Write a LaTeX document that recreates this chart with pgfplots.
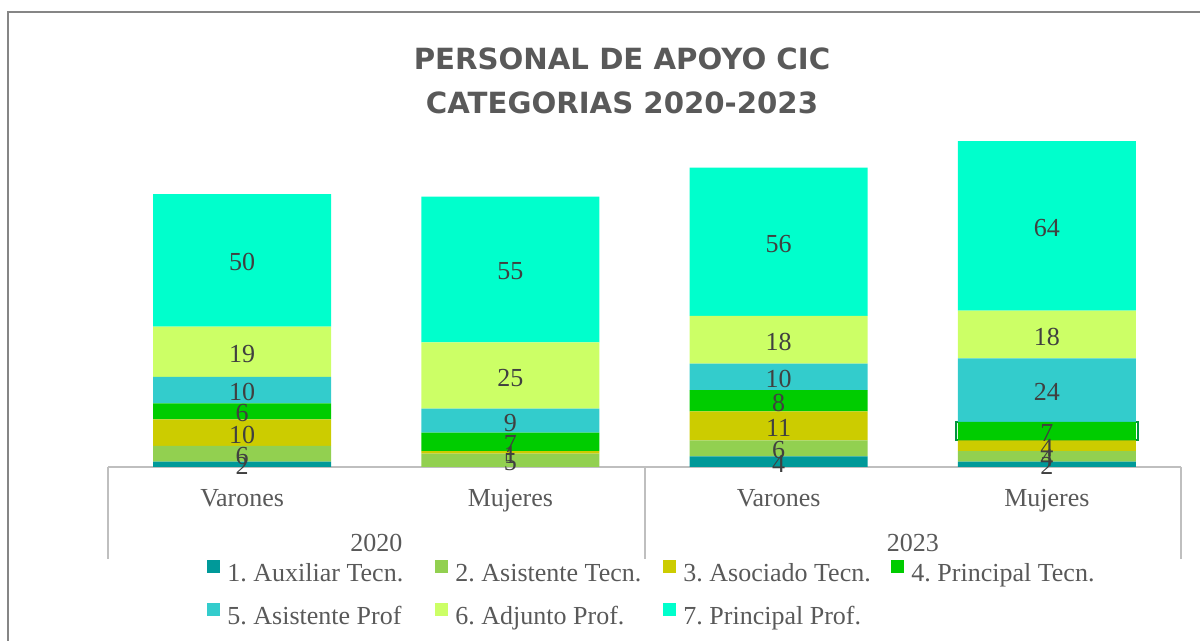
\documentclass[border=0pt]{standalone}
\usepackage{fontspec}
\setmainfont{Liberation Serif}
\newfontfamily\titlefont{DejaVu Sans}
\usepackage{pgfplots}
\pgfplotsset{compat=1.18}
\definecolor{cA}{RGB}{0,153,153}
\definecolor{cB}{RGB}{146,208,80}
\definecolor{cC}{RGB}{204,204,0}
\definecolor{cD}{RGB}{0,204,0}
\definecolor{cE}{RGB}{51,204,204}
\definecolor{cF}{RGB}{204,255,102}
\definecolor{cG}{RGB}{0,255,204}
\definecolor{txt}{RGB}{64,64,64}
\definecolor{lab}{RGB}{89,89,89}
\definecolor{gridc}{RGB}{191,191,191}
\definecolor{framec}{RGB}{134,134,134}
\definecolor{selc}{RGB}{0,150,60}
\begin{document}
\frenchspacing
\begin{tikzpicture}
\useasboundingbox (0,0) rectangle (600pt,320.5pt);
\draw[framec, line width=1pt] (3.75pt,-2pt) -- (3.75pt,314.5pt) -- (602pt,314.5pt);
\node[font=\titlefont\bfseries\fontsize{14.6}{18}\selectfont, text=lab, anchor=base] at (311pt,285.75pt) {PERSONAL DE APOYO CIC};
\node[font=\titlefont\bfseries\fontsize{14.6}{18}\selectfont, text=lab, anchor=base] at (311pt,263.75pt) {CATEGORIAS 2020-2023};
\begin{axis}[
  at={(54pt,87pt)}, anchor=south west,
  scale only axis, width=536.5pt, height=172.25pt,
  xmin=-0.5, xmax=3.5, ymin=0, ymax=130,
  ybar stacked, bar width=89pt,
  axis line style={draw=none},
  ytick=\empty,
  xtick={0,1,2,3},
  xticklabels={Varones,Mujeres,Varones,Mujeres},
  major tick length=0pt,
  xticklabel style={font=\fontsize{13}{15}\selectfont, text=lab, anchor=base, yshift=-20pt},
  clip=false,
  visualization depends on={rawy \as \rawy},
  nodes near coords={\pgfmathtruncatemacro\segv{\rawy}\ifnum\segv>0 \segv\fi},
  nodes near coords align=center,
  every node near coord/.append style={font=\fontsize{13}{15}\selectfont, text=txt, anchor=center, yshift=-1pt},
  legend columns=4,
  legend style={at={(0.0923,-0.27)}, anchor=north west, draw=none, fill=none, inner sep=0pt, row sep=8pt,
    nodes={inner sep=0pt, text height=9pt, text depth=3pt, font=\fontsize{13}{15}\selectfont, text=lab},
    /tikz/every odd column/.append style={column sep=3.5pt}},
  legend image code/.code={\fill[#1] (0pt,1pt) rectangle (6.5pt,7.5pt);},
]
\addplot[fill=cA, draw=none] coordinates {(0,2) (1,0) (2,4) (3,2)};
\addlegendentry{\makebox[104pt][l]{1. Auxiliar Tecn.}}
\addplot[fill=cB, draw=none] coordinates {(0,6) (1,5) (2,6) (3,4)};
\addlegendentry{\makebox[104pt][l]{2. Asistente Tecn.}}
\addplot[fill=cC, draw=none] coordinates {(0,10) (1,1) (2,11) (3,4)};
\addlegendentry{\makebox[104pt][l]{3. Asociado Tecn.}}
\addplot[fill=cD, draw=none] coordinates {(0,6) (1,7) (2,8) (3,7)};
\addlegendentry{\makebox[104pt][l]{4. Principal Tecn.}}
\addplot[fill=cE, draw=none] coordinates {(0,10) (1,9) (2,10) (3,24)};
\addlegendentry{\makebox[104pt][l]{5. Asistente Prof}}
\addplot[fill=cF, draw=none] coordinates {(0,19) (1,25) (2,18) (3,18)};
\addlegendentry{\makebox[104pt][l]{6. Adjunto Prof.}}
\addplot[fill=cG, draw=none] coordinates {(0,50) (1,55) (2,56) (3,64)};
\addlegendentry{\makebox[104pt][l]{7. Principal Prof.}}
\draw[selc, line width=1pt] ([xshift=-45.5pt]axis cs:3,10) rectangle ([xshift=45.5pt]axis cs:3,17);
\draw[gridc, line width=1pt] (axis cs:-0.5,0) -- (axis cs:3.5,0);
\draw[gridc, line width=1pt] (axis cs:-0.5,0) -- ([yshift=-46pt]axis cs:-0.5,0);
\draw[gridc, line width=1pt] (axis cs:1.5,0) -- ([yshift=-46pt]axis cs:1.5,0);
\draw[gridc, line width=1pt] (axis cs:3.5,0) -- ([yshift=-46pt]axis cs:3.5,0);
\node[anchor=base, font=\fontsize{13}{15}\selectfont, text=lab] at ([yshift=-42.5pt]axis cs:0.5,0) {2020};
\node[anchor=base, font=\fontsize{13}{15}\selectfont, text=lab] at ([yshift=-42.5pt]axis cs:2.5,0) {2023};
\end{axis}
\end{tikzpicture}
\end{document}
